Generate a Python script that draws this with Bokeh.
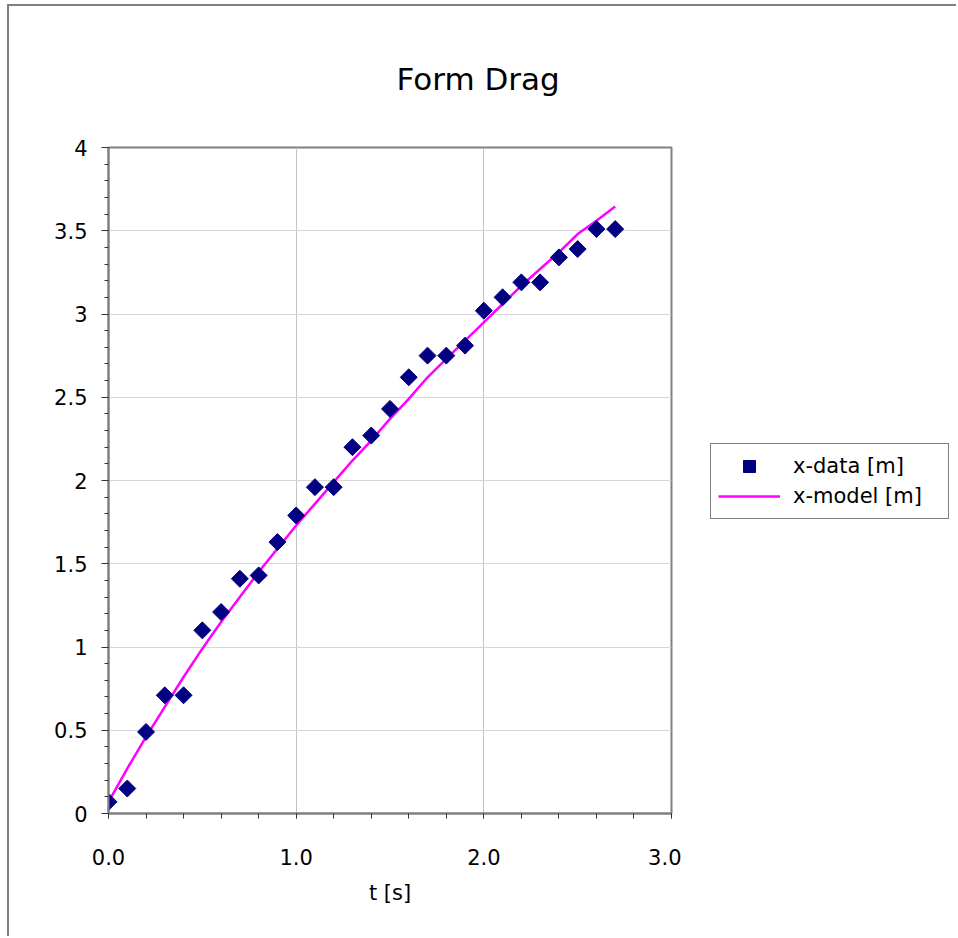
import math
from bokeh.plotting import figure
from bokeh.layouts import row
from bokeh.models import (FixedTicker, CustomJSTickFormatter, Legend, LegendItem,
                          Range1d)
from bokeh.embed import file_html
from bokeh.resources import INLINE

# ---- data ----
t_s = [0.0, 0.1, 0.2, 0.3, 0.4, 0.5, 0.6, 0.7, 0.8, 0.9,
       1.0, 1.1, 1.2, 1.3, 1.4, 1.5, 1.6, 1.7, 1.8, 1.9,
       2.0, 2.1, 2.2, 2.3, 2.4, 2.5, 2.6, 2.7]
x_data_m = [0.07, 0.15, 0.49, 0.71, 0.71, 1.10, 1.21, 1.41, 1.43, 1.63,
            1.79, 1.96, 1.96, 2.20, 2.27, 2.43, 2.62, 2.75, 2.75, 2.81,
            3.02, 3.10, 3.19, 3.19, 3.34, 3.39, 3.51, 3.51]
x_model_m = [0.07, 0.27, 0.46, 0.64, 0.82, 0.99, 1.15, 1.30, 1.45, 1.59,
             1.73, 1.86, 1.99, 2.12, 2.24, 2.37, 2.49, 2.62, 2.73, 2.84,
             2.95, 3.06, 3.17, 3.27, 3.37, 3.48, 3.56, 3.645]

x_major_ticks = [0.0, 1.0, 2.0, 3.0]
x_minor_ticks = [0.0, 0.2, 0.4, 0.6, 0.8, 1.0, 1.2, 1.4, 1.6, 1.8, 2.0,
                 2.2, 2.4, 2.6, 2.8, 3.0]
y_major_ticks = [0, 0.5, 1, 1.5, 2, 2.5, 3, 3.5, 4]
y_minor_ticks = [0.0, 0.1, 0.2, 0.3, 0.4, 0.5, 0.6, 0.7, 0.8, 0.9,
                 1.0, 1.1, 1.2, 1.3, 1.4, 1.5, 1.6, 1.7, 1.8, 1.9,
                 2.0, 2.1, 2.2, 2.3, 2.4, 2.5, 2.6, 2.7, 2.8, 2.9,
                 3.0, 3.1, 3.2, 3.3, 3.4, 3.5, 3.6, 3.7, 3.8, 3.9, 4.0]

title_text = "Form Drag"
x_label = "t [s]"
series_names = ["x-data [m]", "x-model [m]"]

FONT = "DejaVu Sans"
DATA_COLOR = "#000080"
MODEL_COLOR = "#ff00ff"

OX, OY = 9, 6          # canvas origin on the page (after css margin + border)
TOTAL_W, H = 958 - OX - 2, 938 - OY - 2
FR_LEFT, FR_TOP, FR_RIGHT, FR_BOTTOM = 108 - OX, 147 - OY, 671 - OX, 813 - OY
WM = FR_RIGHT + 10      # main figure width
WL = TOTAL_W - WM       # legend figure width

p = figure(width=WM, height=H, output_backend="svg", toolbar_location=None,
           x_range=Range1d(0, 3), y_range=Range1d(0, 4),
           min_border_left=FR_LEFT, min_border_top=FR_TOP,
           min_border_right=WM - FR_RIGHT, min_border_bottom=H - FR_BOTTOM,
           background_fill_color="white", border_fill_color="white")

p.title.text = title_text
p.title.align = "left"
p.title.offset = 288
p.title.text_font = FONT
p.title.text_font_size = "31px"
p.title.text_font_style = "normal"
p.title.text_color = "black"
p.title.standoff = 102

p.outline_line_color = "#808080"
p.outline_line_width = 2

# grids
p.xgrid.ticker = FixedTicker(ticks=x_major_ticks)
p.ygrid.ticker = FixedTicker(ticks=y_major_ticks)
p.xgrid.grid_line_color = "#c4c4c4"
p.ygrid.grid_line_color = "#d6d6d6"
p.grid.grid_line_width = 1

# axes
xax = p.below[0]
yax = p.left[0]
xax.ticker = FixedTicker(ticks=x_major_ticks, minor_ticks=x_minor_ticks)
yax.ticker = FixedTicker(ticks=y_major_ticks, minor_ticks=y_minor_ticks)
xax.formatter = CustomJSTickFormatter(code="return tick.toFixed(1);")
yax.formatter = CustomJSTickFormatter(code="return String(tick);")

for ax in (xax, yax):
    ax.axis_line_color = "#808080"
    ax.axis_line_width = 2
    ax.major_tick_line_color = "#333333"
    ax.minor_tick_line_color = "#333333"
    ax.major_tick_in = 0
    ax.minor_tick_in = 0
    ax.major_label_text_font = FONT
    ax.major_label_text_font_size = "21px"
    ax.major_label_text_color = "black"

xax.major_tick_out = 5
xax.minor_tick_out = 5
xax.major_label_standoff = 30
xax.axis_label = x_label
xax.axis_label_text_font = FONT
xax.axis_label_text_font_size = "21px"
xax.axis_label_text_font_style = "normal"
xax.axis_label_text_color = "black"
xax.axis_label_standoff = 13

yax.major_tick_out = 7
yax.minor_tick_out = 4
yax.major_label_standoff = 14

# series
p.line(t_s, x_model_m, line_color=MODEL_COLOR, line_width=2.5)
p.scatter(t_s, x_data_m, marker="square", angle=math.pi / 4, size=12,
          fill_color=DATA_COLOR, line_color=DATA_COLOR)

# ---- legend panel (separate figure to the right of the plot area) ----
# its ranges lie outside the data, so its copies of the series are not seen;
# they only supply the legend glyphs
pl = figure(width=WL, height=H, output_backend="svg", toolbar_location=None,
            x_range=Range1d(-2, -1), y_range=Range1d(-2, -1),
            x_axis_type=None, y_axis_type=None, min_border=0,
            outline_line_color=None,
            background_fill_color="white", border_fill_color="white")
pl.grid.visible = False
leg_pts = pl.scatter(t_s, x_data_m, marker="square", size=12,
                     fill_color=DATA_COLOR, line_color=DATA_COLOR)
leg_line = pl.line(t_s, x_model_m, line_color=MODEL_COLOR, line_width=2.5)

LEG_LEFT_PAGE, LEG_TOP_PAGE, LEG_H = 710, 445, 74
legend = Legend(items=[LegendItem(label=series_names[0], renderers=[leg_pts]),
                       LegendItem(label=series_names[1], renderers=[leg_line])],
                location=(LEG_LEFT_PAGE - OX - WM,
                          FR_BOTTOM - (LEG_TOP_PAGE - OY) - LEG_H),
                margin=0, padding=7, spacing=0,
                glyph_width=62, glyph_height=30, label_height=30,
                label_width=148, label_standoff=13,
                border_line_color="#000000", border_line_width=1,
                background_fill_color="white",
                label_text_font=FONT, label_text_font_size="21px",
                label_text_color="black")
pl.add_layout(legend, "center")

layout = row(p, pl, spacing=0,
             styles={"margin-left": "7px", "margin-top": "4px",
                     "border-left": "2px solid #808080",
                     "border-top": "2px solid #808080"})

open("out.html", "w").write(file_html(layout, INLINE))
